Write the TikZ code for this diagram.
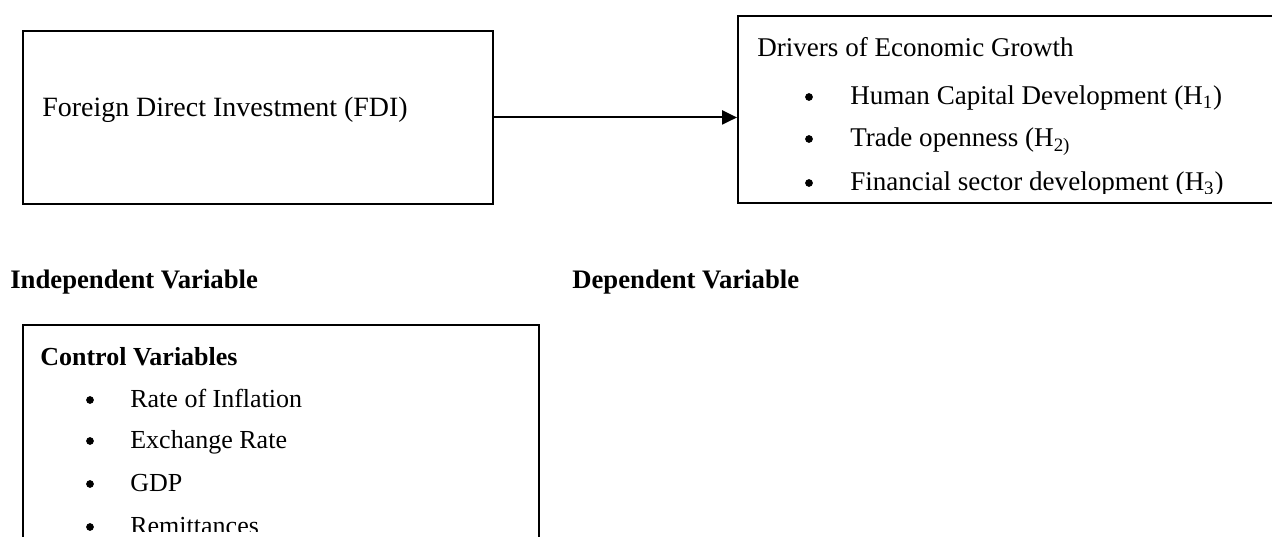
\documentclass[tikz,border=0pt]{standalone}
\usepackage{fontspec}
\setmainfont{Liberation Serif}
\usetikzlibrary{positioning,arrows.meta}

\begin{document}
\begin{tikzpicture}[x=0.02cm,y=-0.02cm,
        box/.style={draw,line width=1.1pt,rectangle,inner sep=0pt,anchor=north west},
        txt/.style={anchor=base west,inner sep=0pt,font=\fontsize{15.4}{18}\selectfont},
        ctxt/.style={anchor=base west,inner sep=0pt,font=\fontsize{14.8}{18}\selectfont},
        head/.style={anchor=base west,inner sep=0pt,font=\fontsize{15.2}{17}\selectfont\bfseries},
        dot/.style={circle,fill,inner sep=0pt,minimum size=4.4pt}]
        \useasboundingbox (0,0) rectangle (1272,537);

        % Independent variable
        \node[box,minimum width=9.4cm,minimum height=3.46cm] (fdi) at (22,30) {};
        \node[txt,font=\fontsize{15.9}{18}\selectfont] (fdiT) at (42,117) {Foreign Direct Investment (FDI)};

        % Dependent variable
        \node[box,minimum width=11.1cm,minimum height=3.74cm] (drivers) at (737,15) {};
        \begin{scope}
            \clip (737,15) rectangle (1272,194);
            \node[txt] (drvT) at (757,57) {Drivers of Economic Growth};
            \node[dot] (drvB1) at (809,97) {};
            \node[txt] (drv1) at (850,105) {Human Capital Development (H\textsubscript{1})};
            \node[dot] (drvB2) at (809,139) {};
            \node[txt] (drv2) at (850,147) {Trade openness (H\textsubscript{2)}};
            \node[dot] (drvB3) at (809,183) {};
            \node[txt] (drv3) at (850,191) {Financial sector development (H\textsubscript{3})};
        \end{scope}

        \draw[line width=1.1pt,-{Triangle[length=8.5pt,width=8pt]}] (fdi.east) -- (fdi.east -| drivers.west);

        \node[head] (indep) at (10,288) {Independent Variable};
        \node[head] (dep) at (572,288) {Dependent Variable};

        % Control variables
        \node[box,minimum width=10.32cm,minimum height=4.8cm] (ctrl) at (22,324) {};
        \begin{scope}
            \clip (22,324) rectangle (538,531);
            \node[head,font=\fontsize{14.8}{17}\selectfont\bfseries] (ctrlT) at (40,365) {Control Variables};
            \node[dot] (ctrlB1) at (90,400) {};
            \node[ctxt] (ctrl1) at (130,407) {Rate of Inflation};
            \node[dot] (ctrlB2) at (90,441) {};
            \node[ctxt] (ctrl2) at (130,448) {Exchange Rate};
            \node[dot] (ctrlB3) at (90,484) {};
            \node[ctxt] (ctrl3) at (130,491) {GDP};
            \node[dot] (ctrlB4) at (90,527) {};
            \node[ctxt] (ctrl4) at (130,534) {Remittances};
        \end{scope}
    \end{tikzpicture}
\end{document}
